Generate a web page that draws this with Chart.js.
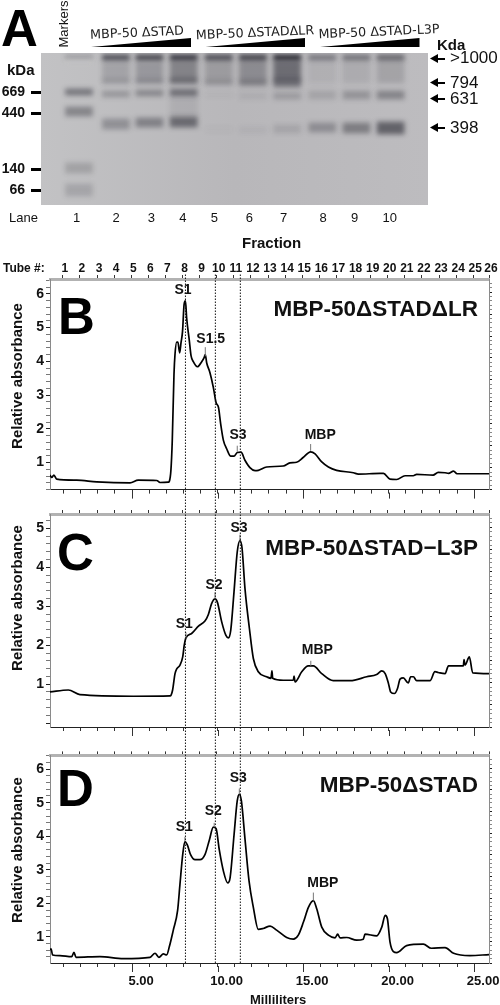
<!DOCTYPE html>
<html>
<head>
<meta charset="utf-8">
<title>MBP-50 gel and chromatograms</title>
<script src="https://cdn.jsdelivr.net/npm/chart.js@4/dist/chart.umd.min.js"></script>
<style>
  html, body { margin: 0; padding: 0; background: #fff; }
  #page { position: relative; width: 500px; height: 1005px; overflow: hidden; font-family: "Liberation Sans", Arial, sans-serif; color: #111; }
  #page canvas { position: absolute; left: 0; }
  .t { position: absolute; white-space: nowrap; line-height: 1; }
  .b { font-weight: bold; }
  .letter { font-size: 51px; font-weight: bold; color: #000; }
  .name { font-size: 22.5px; font-weight: bold; }
  .ylab { font-size: 15px; font-weight: bold; transform: translate(-50%, -50%) rotate(-90deg); }
  .grp { font-family: "DejaVu Sans", sans-serif; font-size: 12.7px; transform: translate(-50%, -50%) rotate(-2.5deg); color: #222; }
  .wedge { position: absolute; background: #000; clip-path: polygon(0 100%, 100% 0, 100% 100%); }
</style>
</head>
<body>
<div id="page">
  <canvas id="gel" width="500" height="255" style="top:0"></canvas>
  <canvas id="panelB" width="500" height="245" style="top:255px"></canvas>
  <canvas id="panelC" width="500" height="245" style="top:500px"></canvas>
  <canvas id="panelD" width="500" height="260" style="top:745px"></canvas>
  <canvas id="dotted" width="500" height="690" style="top:273px"></canvas>
</div>
<script>
const laneNames = ['1', '2', '3', '4', '5', '6', '7', '8', '9', '10'];
const laneLabelAt = [18, 62, 101, 136, 171, 210, 248, 292, 327, 366];
const laneCentre = [20.7, 61.7, 99, 137, 176, 214, 252, 291, 329, 367];
const markerNames = ['669', '440', '140', '66'];
const markerAt = [39.5, 60.5, 116, 137];

const bandLane = [
  0, 0, 0, 0, 0, 0,
  1, 1, 1, 1, 1,
  2, 2, 2, 2, 2,
  3, 3, 3, 3, 3, 3,
  4, 4, 4, 4, 4,
  5, 5, 5, 5, 5,
  6, 6, 6, 6, 6,
  7, 7, 7, 7,
  8, 8, 8, 8,
  9, 9, 9, 9
];
const bandTop = [
  2, 7, 36, 54, 110, 131,
  2, 9, 26, 38, 66,
  2, 9, 26, 37, 65,
  2, 8, 25, 36, 64, 44,
  2, 8, 27, 40, 74,
  2, 8, 27, 40, 74,
  2, 8, 26, 40, 72,
  2, 8, 38, 70,
  2, 8, 38, 70,
  2, 8, 38, 69
];
const bandBottom = [
  7, 8.5, 42, 63, 120, 143,
  7, 30, 30, 44, 76,
  7, 30, 30, 43, 74,
  7, 30, 30, 43, 74, 64,
  7, 30, 32, 44, 79,
  7, 30, 33, 46, 80,
  7, 28, 34, 46, 80,
  7, 30, 46, 79,
  7, 30, 46, 80,
  7, 30, 46, 81
];
const bandDarkness = [
  0.22, -0.6, 0.45, 0.35, 0.18, 0.16,
  0.7, 0.16, 0.12, 0.24, 0.28,
  0.75, 0.22, 0.16, 0.32, 0.36,
  0.85, 0.34, 0.28, 0.46, 0.5, 0.08,
  0.7, 0.18, 0.16, 0.04, 0.03,
  0.78, 0.28, 0.24, 0.08, 0.05,
  0.95, 0.48, 0.42, 0.2, 0.12,
  0.42, 0.06, 0.14, 0.28,
  0.46, 0.09, 0.24, 0.38,
  0.55, 0.15, 0.34, 0.55
];

// Chromatograms: millilitres and relative absorbance
const bMl = [0.2, 0.3, 0.43, 0.59, 1.76, 2.93, 4.88, 5.36, 6.44, 6.63, 7.12, 7.18, 7.27, 7.35, 7.45, 7.51, 7.61, 7.68, 7.78, 7.86, 7.95, 8.04, 8.12, 8.19, 8.35, 8.45, 8.58, 8.82, 9.07, 9.22, 9.28, 9.36, 9.55, 9.75, 9.91, 10.05, 10.18, 10.34, 10.53, 10.77, 10.96, 11.15, 11.37, 11.6, 11.89, 12.19, 12.38, 12.87, 13.84, 14.23, 14.62, 15.0, 15.44, 15.7, 16.09, 16.48, 16.96, 17.94, 18.23, 19.5, 19.7, 20.08, 20.47, 20.96, 21.44, 21.64, 22.6, 22.9, 23.3, 23.5, 23.8, 24.0, 25.87];
const bAbs = [0.63, 0.56, 0.63, 0.51, 0.48, 0.43, 0.4, 0.48, 0.47, 0.41, 0.42, 0.45, 0.77, 1.66, 3.62, 4.21, 4.57, 4.57, 4.25, 4.55, 4.89, 5.68, 5.79, 5.29, 4.6, 4.16, 3.99, 3.84, 3.99, 4.12, 4.2, 3.96, 3.67, 3.23, 2.78, 2.64, 2.15, 1.66, 1.41, 1.19, 1.19, 1.3, 1.31, 1.07, 0.85, 0.76, 0.77, 0.87, 0.9, 0.99, 1.01, 1.15, 1.32, 1.26, 1.02, 0.87, 0.77, 0.7, 0.66, 0.68, 0.68, 0.51, 0.5, 0.61, 0.61, 0.65, 0.63, 0.71, 0.7, 0.68, 0.75, 0.67, 0.67];

const cMl = [0.2, 1.27, 1.95, 5.07, 7.22, 7.28, 7.37, 7.51, 7.61, 7.8, 7.96, 8.05, 8.15, 8.48, 8.88, 9.26, 9.46, 9.65, 9.85, 9.99, 10.24, 10.48, 10.63, 10.77, 10.96, 11.15, 11.31, 11.43, 11.6, 11.86, 12.09, 12.38, 12.87, 13.12, 13.18, 13.22, 13.84, 14.43, 14.47, 14.53, 14.92, 15.3, 15.6, 16.09, 16.76, 17.75, 18.72, 19.3, 19.6, 19.8, 19.99, 20.12, 20.34, 20.52, 20.67, 20.86, 21.15, 21.29, 21.45, 21.64, 22.42, 22.71, 22.9, 23.3, 23.5, 24.37, 24.41, 24.47, 24.72, 24.92, 25.87];
const cAbs = [0.8, 0.85, 0.73, 0.69, 0.7, 0.72, 0.85, 1.27, 1.39, 1.49, 1.7, 2.0, 2.19, 2.3, 2.49, 2.62, 2.79, 3.07, 3.19, 3.1, 2.6, 2.26, 2.19, 2.39, 3.37, 4.4, 4.69, 4.49, 3.46, 2.43, 1.66, 1.32, 1.19, 1.15, 1.34, 1.15, 1.1, 1.1, 1.21, 1.06, 1.32, 1.47, 1.47, 1.27, 1.09, 1.09, 1.19, 1.25, 1.34, 1.27, 1.02, 0.8, 0.76, 0.89, 1.13, 1.16, 1.03, 1.19, 1.19, 1.09, 1.09, 1.32, 1.3, 1.27, 1.47, 1.47, 1.63, 1.49, 1.7, 1.29, 1.27];

const dMl = [0.2, 0.26, 0.35, 0.78, 1.47, 1.6, 1.72, 3.12, 4.49, 6.05, 6.34, 6.57, 6.83, 7.02, 7.18, 7.41, 7.66, 7.8, 7.96, 8.09, 8.23, 8.42, 8.68, 8.97, 9.26, 9.52, 9.75, 9.91, 10.1, 10.34, 10.59, 10.73, 10.96, 11.15, 11.27, 11.39, 11.6, 11.84, 12.09, 12.38, 12.67, 13.07, 13.45, 14.04, 14.43, 14.72, 15.02, 15.31, 15.6, 15.8, 16.09, 16.48, 16.87, 17.02, 17.16, 17.55, 18.13, 18.52, 18.62, 19.3, 19.6, 19.8, 19.93, 20.08, 20.28, 20.47, 21.05, 22.03, 22.5, 23.3, 23.8, 24.75, 25.87];
const dAbs = [0.61, 0.64, 0.46, 0.44, 0.41, 0.54, 0.39, 0.41, 0.35, 0.39, 0.51, 0.39, 0.49, 0.46, 0.71, 1.2, 1.78, 2.57, 3.45, 3.84, 3.74, 3.45, 3.3, 3.3, 3.45, 3.89, 4.27, 4.23, 3.59, 2.96, 2.61, 2.76, 4.03, 5.06, 5.25, 5.06, 3.93, 2.66, 1.88, 1.22, 1.25, 1.32, 1.2, 0.98, 0.93, 1.05, 1.44, 1.88, 2.08, 1.83, 1.29, 1.05, 0.97, 1.08, 0.97, 0.98, 0.9, 0.93, 1.08, 1.03, 1.29, 1.64, 1.54, 0.85, 0.56, 0.53, 0.74, 0.78, 0.66, 0.68, 0.51, 0.44, 0.47];

// Axes
const mlLabelled = [5, 10, 15, 20, 25];
const mlMinor = [1, 2, 3, 4, 5, 6, 7, 8, 9, 10, 11, 12, 13, 14, 15, 16, 17, 18, 19, 20, 21, 22, 23, 24, 25];
const tubeNames = ['1', '2', '3', '4', '5', '6', '7', '8', '9', '10', '11', '12', '13', '14', '15', '16', '17', '18', '19', '20', '21', '22', '23', '24', '25', '26'];
const tubeAt = [0.95, 1.95, 2.95, 3.95, 4.95, 5.95, 6.95, 7.95, 8.95, 9.95, 10.95, 11.95, 12.95, 13.95, 14.95, 15.95, 16.95, 17.95, 18.95, 19.95, 20.95, 21.95, 22.95, 23.95, 24.95, 25.87];
const xMin = 0.2, xMax = 25.87;

// Peak markers
const bPeakNames = ['S1', 'S1.5', 'S3', 'MBP'];
const bPeakX = [7.98, 9.6, 11.19, 16.0];
const bPeakY = [6.12, 4.65, 1.8, 1.8];
const bStemX = [9.28, 11.15, 15.44];
const bStemLow = [4.15, 1.32, 1.35];
const bStemHigh = [4.42, 1.5, 1.55];
const cPeakNames = ['S1', 'S2', 'S3', 'MBP'];
const cPeakX = [8.05, 9.79, 11.25, 15.83];
const cPeakY = [2.54, 3.54, 5.0, 1.87];
const cStemX = [8.15, 9.85, 11.31, 15.45];
const cStemLow = [2.19, 3.19, 4.69, 1.47];
const cStemHigh = [2.33, 3.36, 4.84, 1.6];
const dPeakNames = ['S1', 'S2', 'S3', 'MBP'];
const dPeakX = [8.05, 9.75, 11.21, 16.15];
const dPeakY = [4.28, 4.74, 5.72, 2.61];
const dStemX = [8.09, 9.8, 11.27, 15.6];
const dStemLow = [3.84, 4.27, 5.25, 2.08];
const dStemHigh = [3.98, 4.4, 5.42, 2.32];
const dottedAt = [8.12, 9.87, 11.33];

Chart.defaults.font.family = '"Liberation Sans", Arial, sans-serif';
Chart.defaults.color = '#111';
Chart.defaults.animation = false;
Chart.defaults.responsive = false;

function stepTicks(min, max, step) {
  const out = [];
  for (let i = Math.ceil(min / step); i * step <= max; i++) out.push({ value: Math.round(i * step * 10) / 10 });
  return out;
}

const hidden = { legend: { display: false }, tooltip: { enabled: false } };

// gel background and blur on bands
const gelPlugin = {
  id: 'gelLook',
  beforeDatasetsDraw(chart) {
    const a = chart.chartArea, ctx = chart.ctx;
    const g = ctx.createLinearGradient(a.left, 0, a.right, 0);
    g.addColorStop(0, '#c2c2c4');
    g.addColorStop(0.5, '#b8b7ba');
    g.addColorStop(1, '#bdbcbf');
    ctx.fillStyle = g;
    ctx.fillRect(a.left, a.top, a.right - a.left, a.bottom - a.top);
    ctx.filter = 'blur(2.4px)';
  },
  afterDatasetsDraw(chart) {
    chart.ctx.filter = 'none';
  }
};

new Chart(document.getElementById('gel'), {
  type: 'bar',
  data: {
    datasets: [{
      data: bandLane.map((lane, i) => ({ x: laneCentre[lane], y: [bandTop[i], bandBottom[i]] })),
      backgroundColor: bandDarkness.map(d => d < 0 ? `rgba(235,235,230,${-d})` : `rgba(25,25,35,${d})`),
      barThickness: 27
    }]
  },
  options: {
    plugins: hidden,
    layout: { padding: 0 },
    scales: {
      x: {
        type: 'linear', min: 0, max: 387,
        afterBuildTicks: s => { s.ticks = laneLabelAt.map(v => ({ value: v })); },
        afterFit: s => { s.height = 50; },
        grid: { display: false, drawTicks: false },
        border: { display: false },
        ticks: { autoSkip: false, maxRotation: 0, padding: 6, font: { size: 13 }, callback: (v, i) => laneNames[i] }
      },
      y: {
        type: 'linear', reverse: true, min: 0, max: 152,
        afterBuildTicks: s => { s.ticks = markerAt.map(v => ({ value: v })); },
        afterFit: s => { s.width = 41; },
        grid: { drawOnChartArea: false, tickLength: 10, tickWidth: 3, tickColor: '#000' },
        border: { display: false },
        ticks: { autoSkip: false, padding: 6, font: { size: 14, weight: 'bold' }, callback: (v, i) => markerNames[i] }
      },
      pad: {
        type: 'linear', position: 'top', min: 0, max: 1,
        display: true,
        afterFit: s => { s.height = 53; },
        grid: { display: false }, border: { display: false }, ticks: { display: false }
      },
      padR: {
        type: 'linear', position: 'right', min: 0, max: 1,
        afterFit: s => { s.width = 72; },
        grid: { display: false }, border: { display: false }, ticks: { display: false }
      }
    }
  },
  plugins: [gelPlugin]
});

// peak names with their small stems, plus the longer millilitre ticks
const panelMarks = {
  id: 'panelMarks',
  afterDatasetsDraw(chart, args, opts) {
    const ctx = chart.ctx, x = chart.scales.x, y = chart.scales.y, bottom = chart.chartArea.bottom;
    ctx.save();
    ctx.lineWidth = 1;
    ctx.strokeStyle = '#333';
    mlLabelled.forEach(v => {
      const px = Math.round(x.getPixelForValue(v)) + 0.5;
      ctx.beginPath();
      ctx.moveTo(px, bottom + 3);
      ctx.lineTo(px, bottom + 9);
      ctx.stroke();
    });
    ctx.strokeStyle = '#777';
    opts.stemX.forEach((v, i) => {
      const px = x.getPixelForValue(v);
      ctx.beginPath();
      ctx.moveTo(px, y.getPixelForValue(opts.stemLow[i]));
      ctx.lineTo(px, y.getPixelForValue(opts.stemHigh[i]));
      ctx.stroke();
    });
    ctx.fillStyle = '#111';
    ctx.font = 'bold 14px "Liberation Sans", Arial, sans-serif';
    ctx.textAlign = 'center';
    ctx.textBaseline = 'middle';
    opts.names.forEach((name, i) => {
      ctx.fillText(name, x.getPixelForValue(opts.x[i]), y.getPixelForValue(opts.y[i]));
    });
    ctx.restore();
  }
};

function makePanel(id, mL, abs, yMin, yMax, topH, bottomH, peaks, showTubes, showMl) {
  return new Chart(document.getElementById(id), {
    type: 'scatter',
    data: {
      datasets: [{
        data: mL.map((v, i) => ({ x: v, y: abs[i] })),
        showLine: true,
        borderColor: '#000',
        borderWidth: 1.7,
        pointRadius: 0,
        cubicInterpolationMode: 'monotone'
      }]
    },
    options: {
      plugins: Object.assign({ panelMarks: peaks }, hidden),
      layout: { padding: 0 },
      scales: {
        x: {
          type: 'linear', min: xMin, max: xMax,
          afterBuildTicks: s => { s.ticks = mlMinor.map(v => ({ value: v })); },
          afterFit: s => { s.height = bottomH; },
          grid: { drawOnChartArea: false, tickLength: 4, tickColor: '#333' },
          border: { color: '#222', width: 1 },
          ticks: {
            display: showMl, autoSkip: false, maxRotation: 0, padding: 7, labelOffset: 9,
            font: { size: 13, weight: 'bold' },
            callback: v => mlLabelled.includes(v) ? v.toFixed(2) : ''
          }
        },
        top: {
          type: 'linear', position: 'top', min: xMin, max: xMax,
          afterBuildTicks: s => { s.ticks = tubeAt.map(v => ({ value: v })); },
          afterFit: s => { s.height = topH; },
          grid: { drawOnChartArea: false, tickLength: 4, tickColor: '#333' },
          border: { color: '#b2b2b2', width: 3 },
          ticks: {
            display: showTubes, autoSkip: false, maxRotation: 0, padding: -1, labelOffset: 2,
            font: { size: 12, weight: 'bold' },
            callback: (v, i) => tubeNames[i]
          }
        },
        y: {
          type: 'linear', min: yMin, max: yMax,
          afterBuildTicks: s => { s.ticks = stepTicks(yMin, yMax, 0.2); },
          afterFit: s => { s.width = 50; },
          grid: {
            drawOnChartArea: false, tickLength: 4,
            tickColor: c => Number.isInteger(c.tick.value) ? '#222' : '#777'
          },
          border: { color: '#8a8a8a', width: 1 },
          ticks: {
            autoSkip: false, padding: 2, font: { size: 14, weight: 'bold' },
            callback: v => (Number.isInteger(v) && v > 0) ? String(v) : ''
          }
        },
        right: {
          type: 'linear', position: 'right', min: 0, max: 9.6,
          afterBuildTicks: s => { s.ticks = stepTicks(0, 9.6, 0.2); },
          afterFit: s => { s.width = 11; },
          grid: {
            drawOnChartArea: false, tickLength: 3,
            tickColor: c => Number.isInteger(c.tick.value) ? '#222' : '#888'
          },
          border: { color: '#8a8a8a', width: 1 },
          ticks: { display: false }
        }
      }
    },
    plugins: [panelMarks]
  });
}

makePanel('panelB', bMl, bAbs, 0.2, 6.44, 24, 9, { names: bPeakNames, x: bPeakX, y: bPeakY, stemX: bStemX, stemLow: bStemLow, stemHigh: bStemHigh }, true, false);
makePanel('panelC', cMl, cAbs, -0.1, 5.37, 14, 18, { names: cPeakNames, x: cPeakX, y: cPeakY, stemX: cStemX, stemLow: cStemLow, stemHigh: cStemHigh }, false, false);
makePanel('panelD', dMl, dAbs, 0.22, 6.41, 7, 42, { names: dPeakNames, x: dPeakX, y: dPeakY, stemX: dStemX, stemLow: dStemLow, stemHigh: dStemHigh }, false, true);

// dotted fraction lines running through B, C and D
new Chart(document.getElementById('dotted'), {
  type: 'scatter',
  data: {
    datasets: dottedAt.map(v => ({
      data: [{ x: v, y: 0 }, { x: v, y: 1 }],
      showLine: true,
      borderColor: '#111',
      borderWidth: 1,
      borderDash: [1.5, 1.5],
      pointRadius: 0
    }))
  },
  options: {
    plugins: hidden,
    layout: { padding: { left: 50, right: 11, top: 0, bottom: 0 } },
    scales: {
      x: { type: 'linear', min: xMin, max: xMax, display: false },
      y: { type: 'linear', min: 0, max: 1, display: false }
    }
  }
});

// static text and shapes around the plots
const page = document.getElementById('page');
function addText(text, cls, css) {
  const el = document.createElement('div');
  el.className = 't ' + cls;
  el.textContent = text;
  el.style.cssText = css;
  page.appendChild(el);
  return el;
}
function addWedge(left, width) {
  const el = document.createElement('div');
  el.className = 'wedge';
  el.style.cssText = `left:${left}px;top:38px;width:${width}px;height:9px`;
  page.appendChild(el);
}
function addArrow(top) {
  const head = document.createElement('div');
  head.style.cssText = `position:absolute;left:430px;top:${top - 4}px;width:8px;height:9px;background:#000;clip-path:polygon(0 50%,100% 0,100% 100%)`;
  const tail = document.createElement('div');
  tail.style.cssText = `position:absolute;left:437px;top:${top - 0.5}px;width:8px;height:2px;background:#000`;
  page.appendChild(head);
  page.appendChild(tail);
}

addText('A', 'letter', 'left:1px;top:3px');
addText('B', 'letter', 'left:58px;top:291px');
addText('C', 'letter', 'left:57px;top:527px');
addText('D', 'letter', 'left:57px;top:763px');

addText('Markers', '', 'left:63px;top:24px;font-size:13px;transform:translate(-50%,-50%) rotate(-90deg)');
addText('MBP-50 ΔSTAD', 'grp', 'left:137px;top:33px');
addText('MBP-50 ΔSTADΔLR', 'grp', 'left:255px;top:33px');
addText('MBP-50 ΔSTAD-L3P', 'grp', 'left:379px;top:32px');
addWedge(91, 100);
addWedge(205.5, 99.5);
addWedge(320, 99.5);

addText('kDa', 'b', 'left:7px;top:62px;font-size:15px');
addText('Kda', 'b', 'left:437px;top:37px;font-size:15px');
addText('Lane', '', 'left:9px;top:211px;font-size:13px');
addText('Fraction', 'b', 'left:242px;top:235px;font-size:15px');
addText('>1000', '', 'left:450px;top:49px;font-size:17px');
addText('794', '', 'left:450px;top:74px;font-size:17px');
addText('631', '', 'left:450px;top:90px;font-size:17px');
addText('398', '', 'left:450px;top:119px;font-size:17px');
addArrow(58); addArrow(82); addArrow(98); addArrow(127);

addText('Tube #:', 'b', 'left:3px;top:262px;font-size:12px');
addText('MBP-50ΔSTADΔLR', 'name', 'right:22px;top:298px');
addText('MBP-50ΔSTAD−L3P', 'name', 'right:22px;top:537px');
addText('MBP-50ΔSTAD', 'name', 'right:22px;top:774px');
addText('Relative absorbance', 'ylab', 'left:16px;top:376px');
addText('Relative absorbance', 'ylab', 'left:16px;top:598px');
addText('Relative absorbance', 'ylab', 'left:16px;top:850px');
addText('Milliliters', 'b', 'left:250px;top:993px;font-size:13px');
</script>
</body>
</html>
